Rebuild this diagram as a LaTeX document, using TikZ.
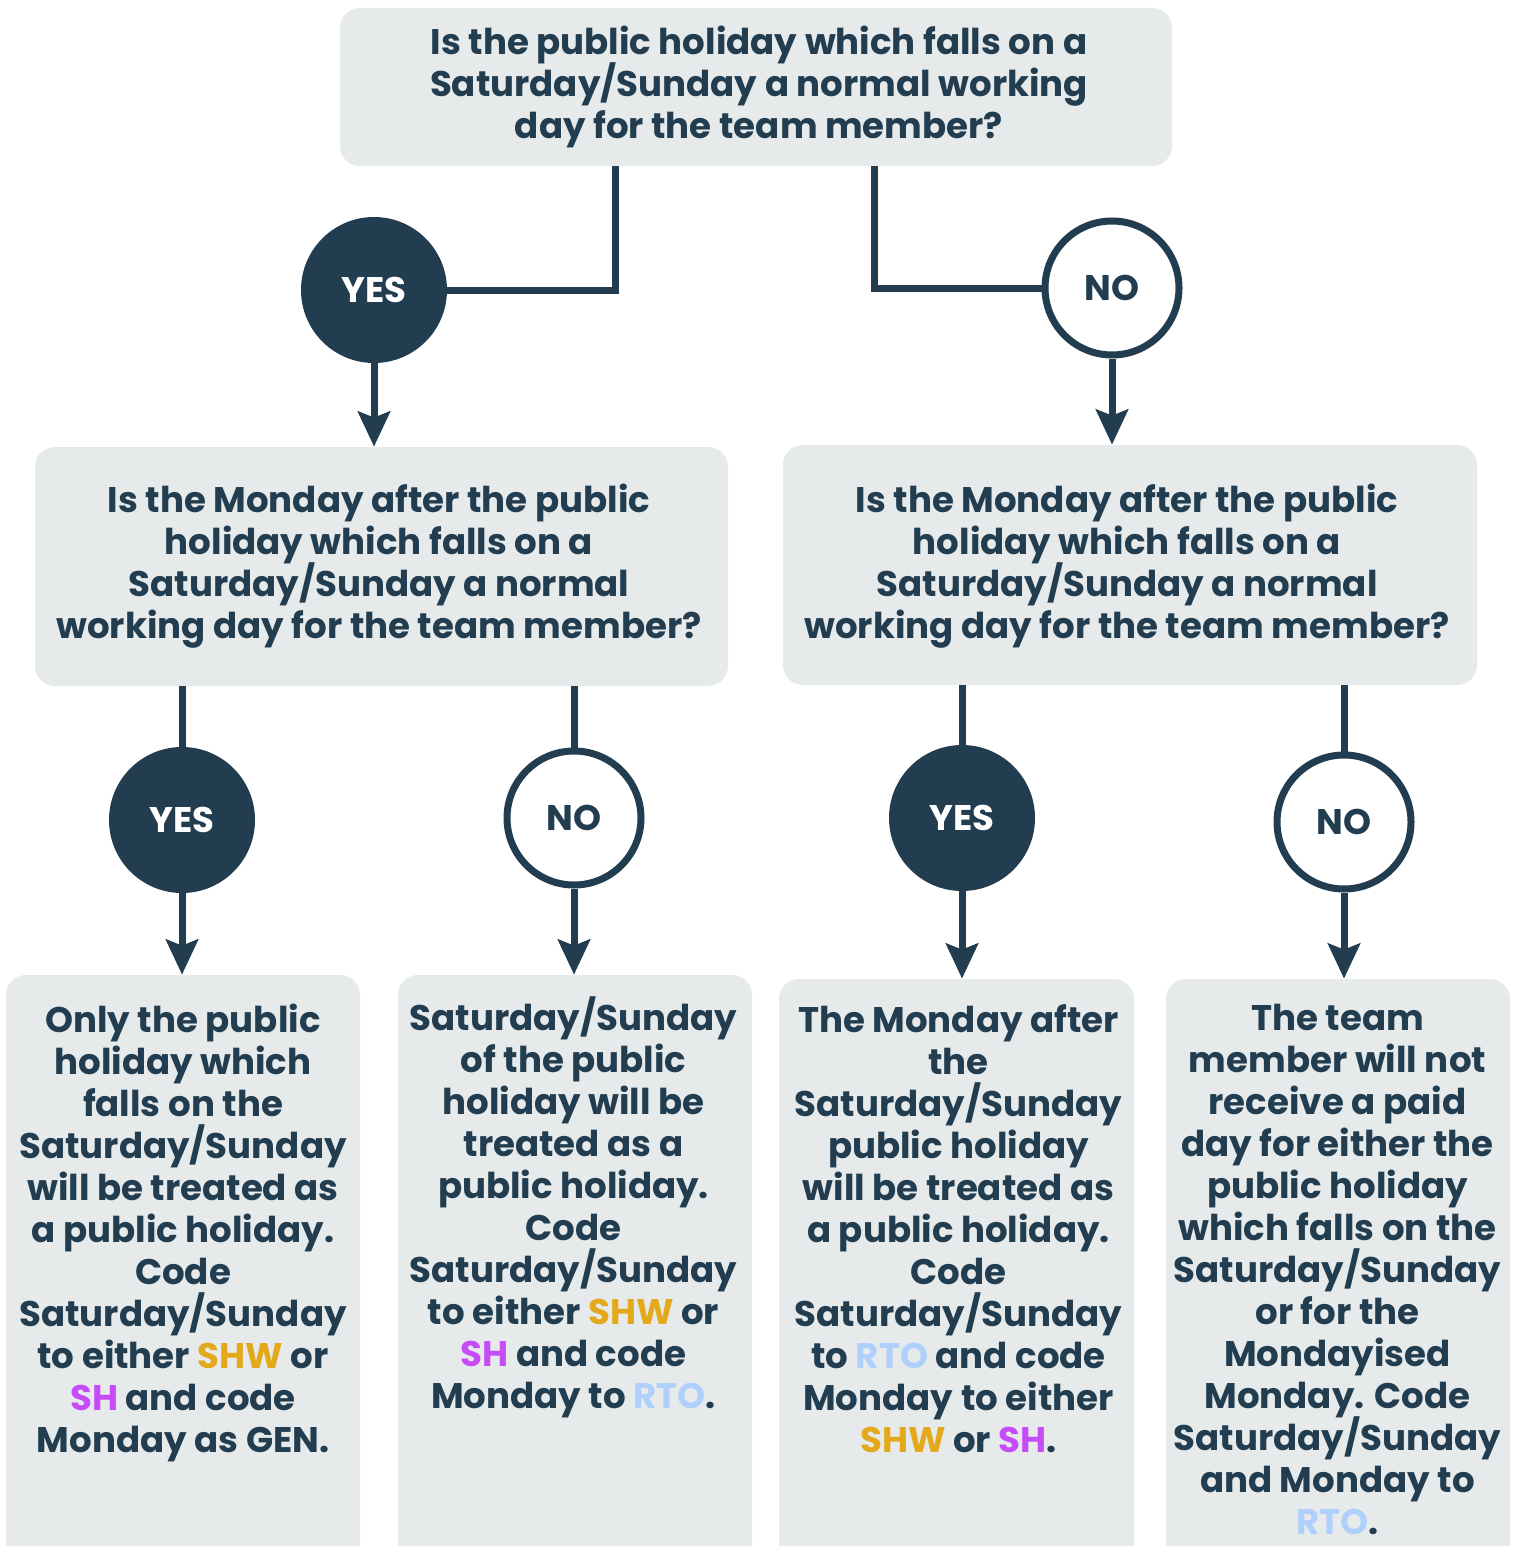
\documentclass[tikz,border=0pt]{standalone}
\usepackage{fontspec}
\setmainfont{Poppins}
\usetikzlibrary{arrows.meta}
\definecolor{navy}{HTML}{213D4F}
\definecolor{boxgrey}{HTML}{E6EAEB}
\definecolor{shw}{HTML}{E3A91A}
\definecolor{shc}{HTML}{C64CF7}
\definecolor{rto}{HTML}{AED0FB}
\newcommand{\SHW}{\textcolor{shw}{SHW}}
\newcommand{\SHc}{\textcolor{shc}{SH}}
\newcommand{\RTO}{\textcolor{rto}{RTO}}
\newcommand{\tightlines}{\lineskiplimit=-100pt\relax\lineskip=0pt\relax}
\tikzset{
  qbox/.style={rectangle, rounded corners=10pt, fill=boxgrey, draw=none, inner sep=0pt},
  txt/.style={font=\fontsize{17.8}{21}\selectfont\bfseries\tightlines, text=navy, align=center, inner sep=0pt, anchor=base},
  yesc/.style={circle, fill=navy, draw=none, minimum size=73pt, inner sep=0pt, text=white, font=\fontsize{17.8}{21}\selectfont\bfseries},
  noc/.style={circle, fill=white, draw=navy, line width=3.5pt, minimum size=67pt, inner sep=0pt, text=navy, font=\fontsize{17.8}{21}\selectfont\bfseries},
  conn/.style={draw=navy, line width=3.5pt},
  arr/.style={conn, -{Stealth[length=17.5pt, width=16pt, inset=3pt]}}
}
\begin{document}
\begin{tikzpicture}[x=0.5pt,y=-0.5pt]
\clip (0,0) rectangle (1521,1546);
\fill[white] (0,0) rectangle (1521,1546);
% boxes
\node[qbox, minimum width=416pt, minimum height=79pt] (q0) at (756,87) {};
\node[qbox, minimum width=346.5pt, minimum height=119.5pt] (m1) at (381.5,566.5) {};
\node[qbox, minimum width=347pt, minimum height=120pt] (m2) at (1130,565) {};
\node[qbox, minimum width=177pt, minimum height=312.5pt] (b1) at (183,1287.5) {};
\node[qbox, minimum width=177pt, minimum height=312.5pt] (b2) at (575,1287.5) {};
\node[qbox, minimum width=177.5pt, minimum height=310.5pt] (b3) at (956.5,1289.5) {};
\node[qbox, minimum width=172pt, minimum height=310.5pt] (b4) at (1338,1289.5) {};
% texts (anchor = baseline of last line)
\node[txt] (q0t) at (759,139) {Is the public holiday which falls on a\\Saturday/Sunday a normal working\\day for the team member?};
\node[txt] (m1t) at (379,638) {Is the Monday after the public\\holiday which falls on a\\Saturday/Sunday a normal\\working day for the team member?};
\node[txt] (m2t) at (1127,638) {Is the Monday after the public\\holiday which falls on a\\Saturday/Sunday a normal\\working day for the team member?};
\node[txt] (b1t) at (183,1452) {Only the public\\holiday which\\falls on the\\Saturday/Sunday\\will be treated as\\a public holiday.\\Code\\Saturday/Sunday\\to either \SHW{} or\\\SHc{} and code\\Monday as GEN.};
\node[txt] (b2t) at (573.5,1408) {Saturday/Sunday\\of the public\\holiday will be\\treated as a\\public holiday.\\Code\\Saturday/Sunday\\to either \SHW{} or\\\SHc{} and code\\Monday to \RTO.};
\node[txt] (b3t) at (958.5,1452) {The Monday after\\the\\Saturday/Sunday\\public holiday\\will be treated as\\a public holiday.\\Code\\Saturday/Sunday\\to \RTO{} and code\\Monday to either\\\SHW{} or \SHc.};
\node[txt] (b4t) at (1337.5,1534) {The team\\member will not\\receive a paid\\day for either the\\public holiday\\which falls on the\\Saturday/Sunday\\or for the\\Mondayised\\Monday. Code\\Saturday/Sunday\\and Monday to\\\RTO.};
% circles
\node[yesc] (y1) at (374,290) {YES};
\node[noc] (n1) at (1112,288) {NO};
\node[yesc] (y2) at (182,820) {YES};
\node[noc] (n2) at (574,818) {NO};
\node[yesc] (y3) at (962,818) {YES};
\node[noc] (n3) at (1344,822) {NO};
% connectors
\coordinate (t1) at (615,166);
\coordinate (t2) at (874,166);
\draw[conn] (t1) |- (y1);
\draw[conn] (t2) |- (n1);
\draw[arr] (y1) -- (y1 |- m1.north);
\draw[arr] (n1) -- (n1 |- m2.north);
\draw[conn] (y2 |- m1.south) -- (y2);
\draw[conn] (n2 |- m1.south) -- (n2);
\draw[conn] (y3 |- m2.south) -- (y3);
\draw[conn] (n3 |- m2.south) -- (n3);
\draw[arr] (y2) -- (y2 |- b1.north);
\draw[arr] (n2) -- (n2 |- b2.north);
\draw[arr] (y3) -- (y3 |- b3.north);
\draw[arr] (n3) -- (n3 |- b4.north);
\end{tikzpicture}
\end{document}
